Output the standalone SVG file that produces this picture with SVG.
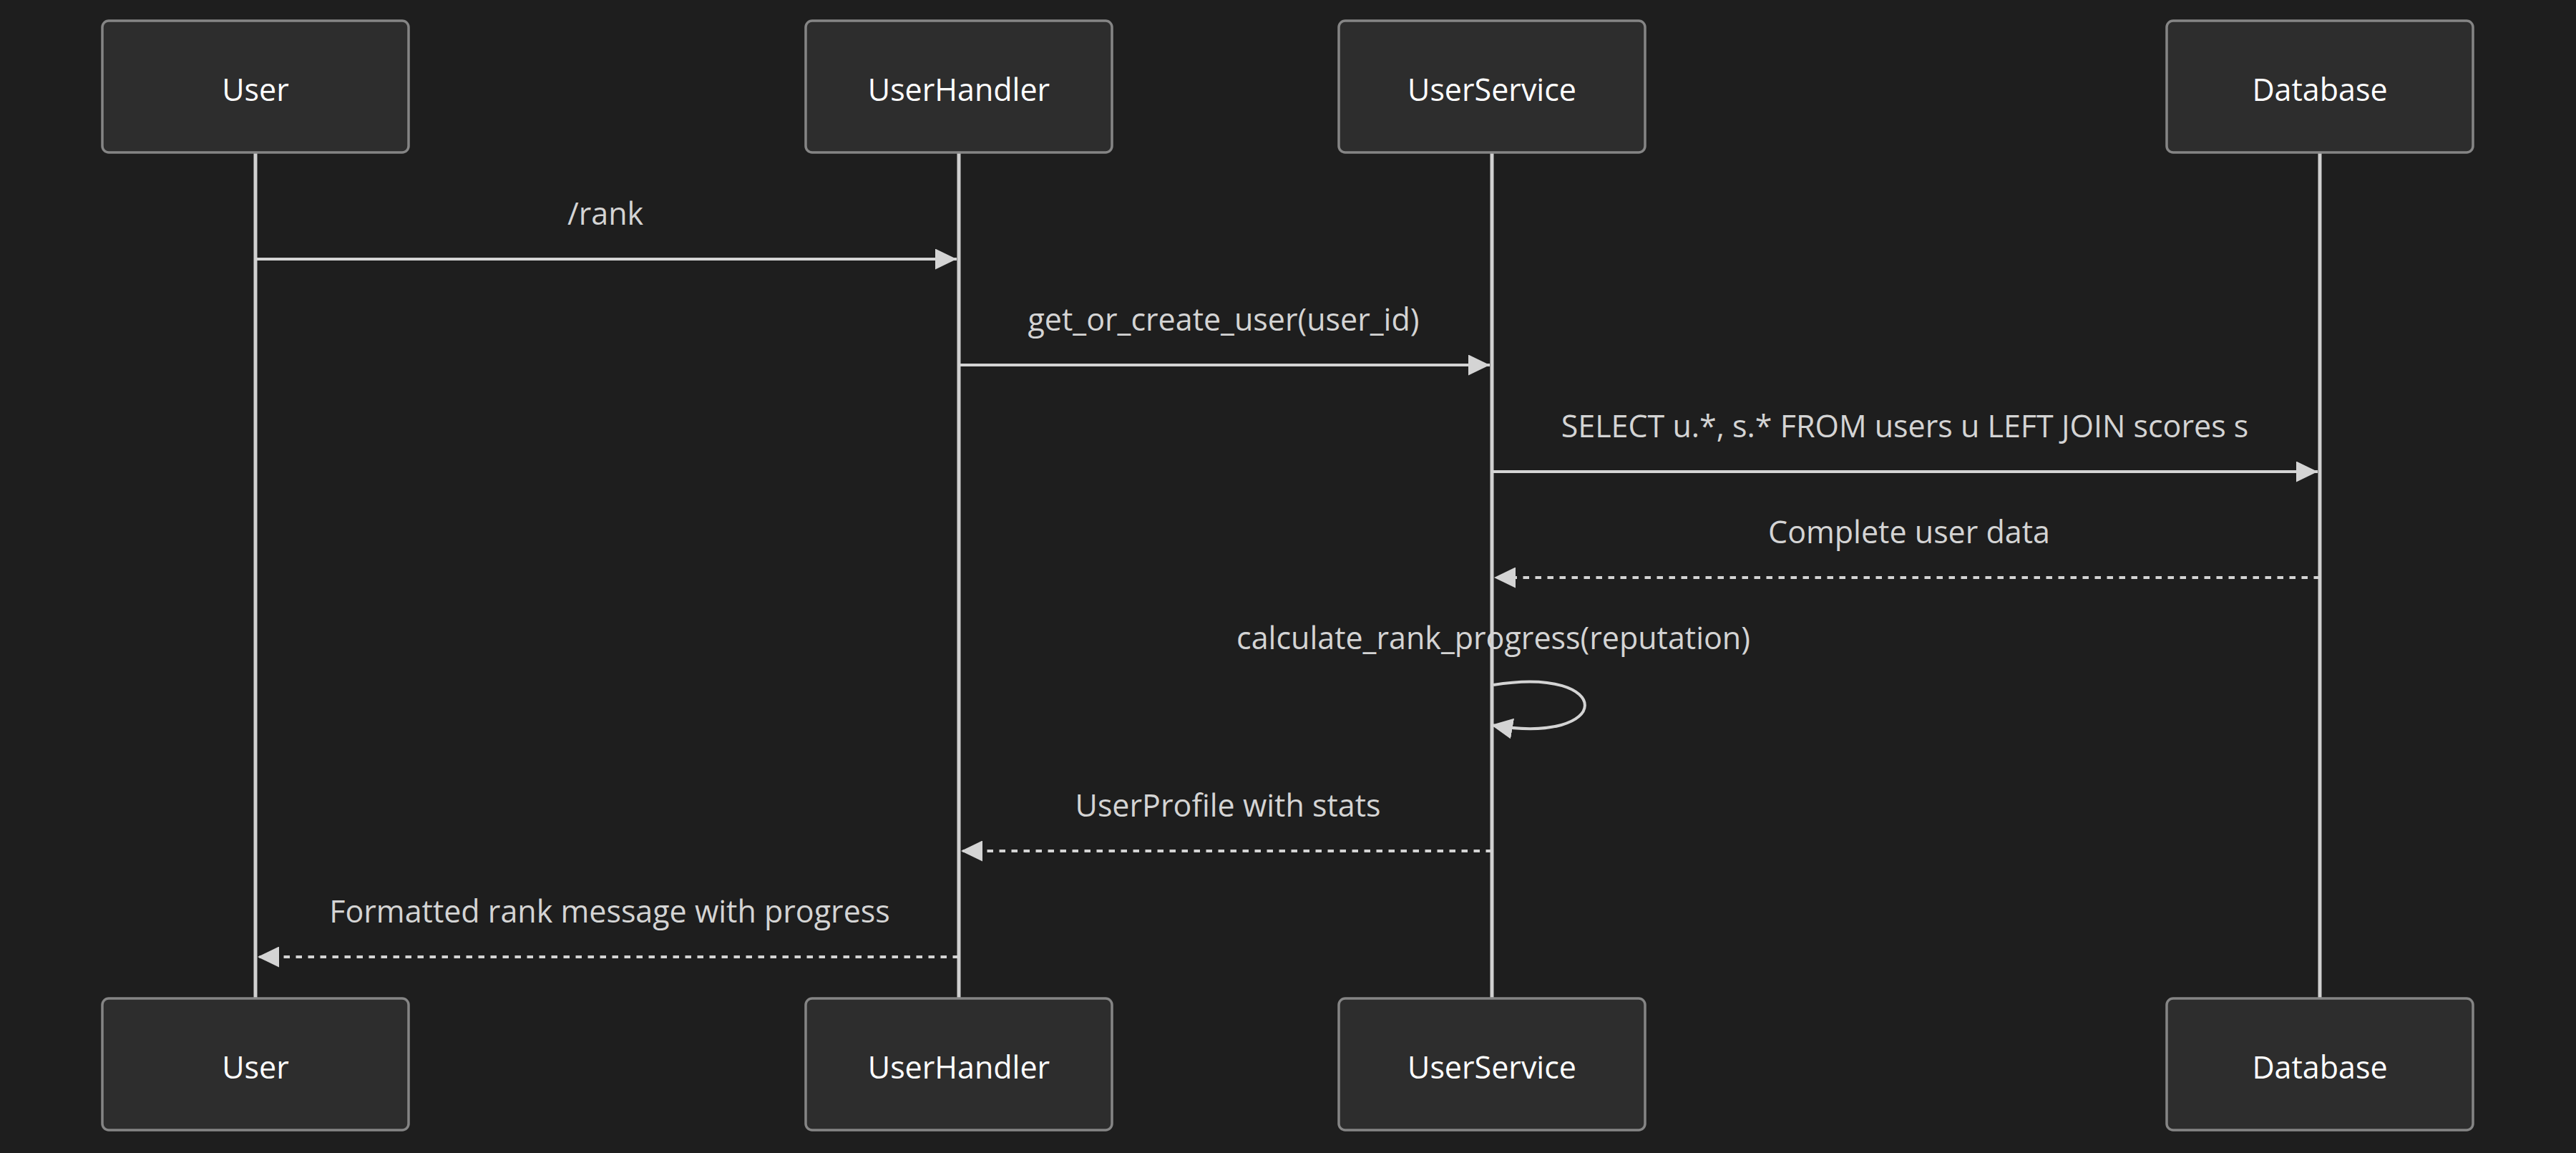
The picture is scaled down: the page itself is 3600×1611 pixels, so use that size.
<svg xmlns="http://www.w3.org/2000/svg" width="3600" height="1611" viewBox="0 0 3600 1611">
<style>
.bg{fill:#1e1e1e}
.actor rect{fill:#2d2d2d;stroke:#858585;stroke-width:3.5}
.actor text{fill:#ffffff;font-family:"Open Sans","Noto Sans","DejaVu Sans",sans-serif;font-size:43px;text-anchor:middle;dominant-baseline:central}
.life{stroke:#d0d0d0;stroke-width:5}
.msg{stroke:#d4d4d4;stroke-width:4;fill:none}
.dash{stroke-dasharray:8.5 8.5}
.label{fill:#d4d4d4;font-family:"Open Sans","Noto Sans","DejaVu Sans",sans-serif;font-size:43px;text-anchor:middle}
</style>
<defs>
<marker id="ah" markerUnits="userSpaceOnUse" markerWidth="30" markerHeight="29" refX="30" refY="14.5" orient="auto" viewBox="0 0 30 29">
<path d="M0,0 L30,14.5 L0,29 z" fill="#d4d4d4"/>
</marker>
</defs>
<rect class="bg" x="0" y="0" width="3600" height="1611"/>
<g id="lifelines">
<line class="life" x1="357" y1="213" x2="357" y2="1394"/>
<line class="life" x1="1340" y1="213" x2="1340" y2="1394"/>
<line class="life" x1="2085" y1="213" x2="2085" y2="1394"/>
<line class="life" x1="3242" y1="213" x2="3242" y2="1394"/>
</g>
<g id="actor-user-top" class="actor"><rect x="143" y="29" width="428" height="184" rx="9"/><text x="357" y="124">User</text></g>
<g id="actor-userhandler-top" class="actor"><rect x="1126" y="29" width="428" height="184" rx="9"/><text x="1340" y="124">UserHandler</text></g>
<g id="actor-userservice-top" class="actor"><rect x="1871" y="29" width="428" height="184" rx="9"/><text x="2085" y="124">UserService</text></g>
<g id="actor-database-top" class="actor"><rect x="3028" y="29" width="428" height="184" rx="9"/><text x="3242" y="124">Database</text></g>
<g id="actor-user-bottom" class="actor"><rect x="143" y="1395" width="428" height="184" rx="9"/><text x="357" y="1490">User</text></g>
<g id="actor-userhandler-bottom" class="actor"><rect x="1126" y="1395" width="428" height="184" rx="9"/><text x="1340" y="1490">UserHandler</text></g>
<g id="actor-userservice-bottom" class="actor"><rect x="1871" y="1395" width="428" height="184" rx="9"/><text x="2085" y="1490">UserService</text></g>
<g id="actor-database-bottom" class="actor"><rect x="3028" y="1395" width="428" height="184" rx="9"/><text x="3242" y="1490">Database</text></g>
<g id="connectors">
<line class="msg" x1="357" y1="362" x2="1337" y2="362" marker-end="url(#ah)"/>
<text class="label" x="846" y="314">/rank</text>
<line class="msg" x1="1340" y1="510" x2="2082" y2="510" marker-end="url(#ah)"/>
<text class="label" x="1710" y="462">get_or_create_user(user_id)</text>
<line class="msg" x1="2085" y1="659" x2="3239" y2="659" marker-end="url(#ah)"/>
<text class="label" x="2662" y="611">SELECT u.*, s.* FROM users u LEFT JOIN scores s</text>
<line class="msg dash" x1="3242" y1="807" x2="2088" y2="807" marker-end="url(#ah)"/>
<text class="label" x="2668" y="759">Complete user data</text>
<path class="msg" d="M2087,957 C2258,929 2258,1043 2084,1013" marker-end="url(#ah)"/>
<text class="label" x="2087" y="907">calculate_rank_progress(reputation)</text>
<line class="msg dash" x1="2085" y1="1189" x2="1343" y2="1189" marker-end="url(#ah)"/>
<text class="label" x="1716" y="1141">UserProfile with stats</text>
<line class="msg dash" x1="1340" y1="1337" x2="360" y2="1337" marker-end="url(#ah)"/>
<text class="label" x="852" y="1289">Formatted rank message with progress</text>
</g>
</svg>
